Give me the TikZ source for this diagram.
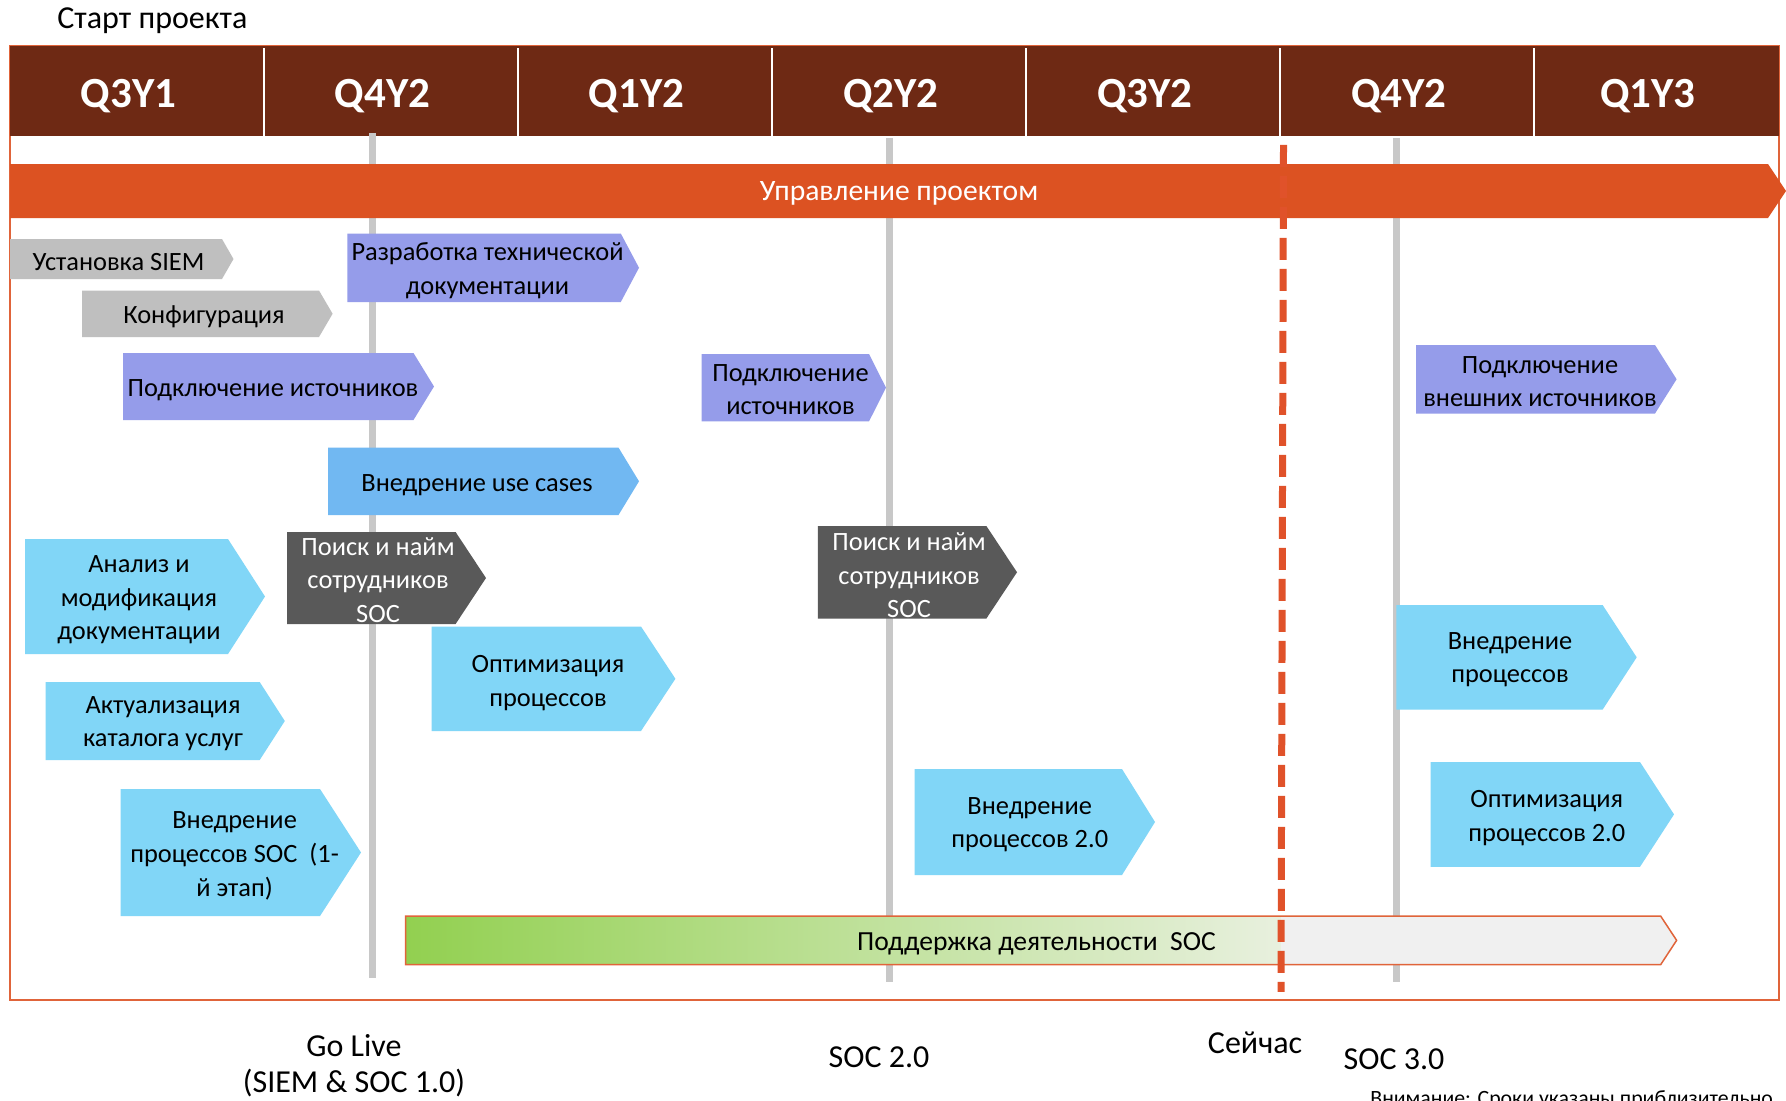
\documentclass[tikz,border=0pt]{standalone}
\usepackage{fontspec}
\setmainfont{Carlito}
\definecolor{chdr}{HTML}{6E2914}
\definecolor{cor}{HTML}{DC5222}
\definecolor{cframe}{HTML}{E0643A}
\definecolor{cgrayc}{HTML}{BFBFBF}
\definecolor{cpurp}{HTML}{959CEA}
\definecolor{cblue}{HTML}{71B8F2}
\definecolor{clblue}{HTML}{81D6F7}
\definecolor{cdark}{HTML}{595959}
\definecolor{cvline}{HTML}{C8C8C8}
\definecolor{cgreen}{HTML}{92D050}
\definecolor{cpale}{HTML}{E8F0DE}
\definecolor{cgrayl}{HTML}{F0F0F0}
\definecolor{cdash}{HTML}{E0522A}
\newcommand\chev[9]{%
  \fill[#7] (#2,#3) -- (#4,#3) -- (#5,{(#3+#6)/2}) -- (#4,#6) -- (#2,#6) -- cycle;
  \node[body,#7,fill=none] (#1) at (#8) {#9};}
\begin{document}
\begin{tikzpicture}[x=0.5pt,y=-0.5pt,
  every node/.append style={yshift=-1.4pt},
  body/.style={font=\fontsize{13.2}{16.8}\selectfont, align=center, inner sep=0pt, text=black},
  qlab/.style={font=\fontsize{21.5}{24}\selectfont\bfseries, text=white, inner sep=0pt},
  lab/.style={font=\fontsize{16}{18}\selectfont, inner sep=0pt, text=black},
  smalllab/.style={font=\fontsize{10.9}{13}\selectfont, inner sep=0pt, text=black},
  vline/.style={draw=cvline, line width=3.5pt},
  sGray/.style={fill=cgrayc},
  sPurp/.style={fill=cpurp},
  sBlue/.style={fill=cblue},
  sLBlue/.style={fill=clblue},
  sDark/.style={fill=cdark, text=white},
  divl/.style={draw=white, line width=1pt}]
\useasboundingbox (0,0) rectangle (1786,1100);
\fill[white] (0,0) rectangle (1786,1100);
% frame
\draw[cframe, line width=0.75pt] (10,45.6) rectangle (1779,1000);
% header
\fill[chdr] (10,45.6) rectangle (1779,135.5);
\foreach \xx/\nm in {264/d1,518/d2,772/d3,1026/d4,1280/d5,1534/d6}{
  \coordinate (\nm t) at (\xx,45.6);
  \coordinate (\nm b) at (\xx,135.5);
  \draw[divl] (\nm t) -- (\nm b);
}
\node[qlab] (q1) at (128.7,93.4) {Q3Y1};
\node[qlab] (q2) at (382.7,93.4) {Q4Y2};
\node[qlab] (q3) at (636.7,93.4) {Q1Y2};
\node[qlab] (q4) at (890.7,93.4) {Q2Y2};
\node[qlab] (q5) at (1144.7,93.4) {Q3Y2};
\node[qlab] (q6) at (1398.7,93.4) {Q4Y2};
\node[qlab] (q7) at (1648,93.4) {Q1Y3};
\node[lab, anchor=west] (start) at (57,18) {Старт проекта};
% vertical milestone lines
\coordinate (l1t) at (372,130); \coordinate (l1b) at (372,975);
\coordinate (l2t) at (889.5,135.5); \coordinate (l2b) at (889.5,979);
\coordinate (l3t) at (1396,135.5); \coordinate (l3b) at (1396,979);
\draw[vline] (l1t) -- (l1b);
\draw[vline] (l2t) -- (l2b);
\draw[vline] (l3t) -- (l3b);
% project management bar
\fill[cor] (10,164) -- (1768,164) -- (1786,191) -- (1768,218) -- (10,218) -- cycle;
\node[font=\fontsize{14.8}{17}\selectfont, text=white, inner sep=0pt] (pm) at (899,191) {Управление проектом};
% chevrons
\chev{siem}{10}{239}{222}{233.5}{279}{sGray}{118.5,259.7}{Установка SIEM}
\chev{conf}{82}{290.5}{319}{332.6}{337}{sGray}{204,314}{Конфигурация}
\chev{rtd}{347.4}{233.5}{620.8}{639}{302}{sPurp}{487.5,268}{Разработка технической\\документации}
\chev{src1}{123}{353}{413.5}{434}{420}{sPurp}{273,387}{Подключение источников}
\chev{src2}{701.6}{354}{869}{886}{421.4}{sPurp}{790.5,387}{Подключение\\источников}
\chev{src3}{1416}{345}{1655}{1676.6}{413.5}{sPurp}{1540,379}{Подключение\\внешних источников}
\chev{uc}{328}{447.6}{618.5}{639}{515}{sBlue}{477,482}{Внедрение use cases}
\chev{anl}{25}{539}{228}{265}{654}{sLBlue}{139,597}{Анализ и\\модификация\\документации}
\chev{hra}{287}{532}{455.6}{486}{624}{sDark}{378,577}{Поиск и найм\\сотрудников\\SOC}
\chev{opta}{431.7}{626.5}{641}{675.4}{731}{sLBlue}{548,680}{Оптимизация\\процессов}
\chev{cat}{45.6}{682}{259.7}{284.8}{760}{sLBlue}{163,721}{Актуализация\\каталога услуг}
\chev{proca}{120.7}{789}{320}{361}{916}{sLBlue}{234.6,853}{Внедрение\\процессов SOC\ \ (1-\\й этап)}
\chev{hrb}{817.8}{526}{986.4}{1017}{618.5}{sDark}{909,572.5}{Поиск и найм\\сотрудников\\SOC}
\chev{procb}{914.6}{769}{1122}{1155}{875}{sLBlue}{1029.7,822}{Внедрение\\процессов 2.0}
\chev{procc}{1396.4}{605}{1602.6}{1636.7}{709.6}{sLBlue}{1510,657}{Внедрение\\процессов}
\chev{optb}{1430.6}{762}{1640}{1674}{866.8}{sLBlue}{1546.8,815.5}{Оптимизация\\процессов 2.0}
% support bar
\shade[left color=cgreen, right color=cpale] (405.5,916) rectangle (1281,964.7);
\fill[cgrayl] (1281,916) -- (1660.6,916) -- (1676.6,940.3) -- (1660.6,964.7) -- (1281,964.7) -- cycle;
\draw[cframe, line width=0.75pt] (405.5,916) -- (1660.6,916) -- (1676.6,940.3) -- (1660.6,964.7) -- (405.5,964.7) -- cycle;
\node[body, font=\fontsize{13.8}{16}\selectfont] (sup) at (1036.5,941) {Поддержка деятельности\ \ SOC};
% now line
\coordinate (nowt) at (1283.5,142); \coordinate (nowb) at (1281,989);
\draw[cdash, line width=3.5pt, dash pattern=on 11pt off 4.5pt] (nowt) -- (nowb);
% bottom labels
\node[lab] (golive) at (354,1043) {Go Live};
\node[lab] (siemsoc) at (354,1080) {(SIEM \& SOC 1.0)};
\node[lab] (soc2) at (879,1054) {SOC 2.0};
\node[lab] (now) at (1255,1040) {Сейчас};
\node[lab] (soc3) at (1394,1056) {SOC 3.0};
\node[smalllab, anchor=west] (warn) at (1370,1097) {Внимание: Сроки указаны приблизительно};
\end{tikzpicture}
\end{document}
